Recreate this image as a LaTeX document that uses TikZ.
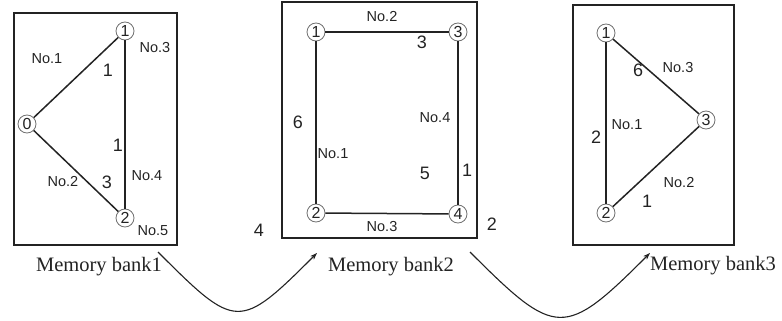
\documentclass[tikz,border=0pt]{standalone}
\usepackage{fontspec}
\setmainfont{Liberation Serif}
\newfontfamily\arialf{Liberation Sans}
\usetikzlibrary{arrows.meta}
\definecolor{ink}{HTML}{232323}
\tikzset{
  bankbox/.style={draw=ink,line width=2.4pt},
  vtx/.style={circle,draw=ink!65,line width=0.8pt,inner sep=0pt,minimum size=18pt,font=\arialf\fontsize{16}{16}\selectfont,text=ink},
  edge/.style={draw=ink,line width=1.5pt},
  nolab/.style={inner sep=0pt,font=\arialf\fontsize{14.5}{14.5}\selectfont,text=ink},
  wlab/.style={inner sep=0pt,font=\arialf\fontsize{18}{18}\selectfont,text=ink},
  caption/.style={inner sep=0pt,font=\fontsize{20.5}{20.5}\selectfont,text=ink},
  flow/.style={draw=ink,line width=1.1pt,-{Stealth[length=7pt,width=5pt]}}
}
\begin{document}
\begin{tikzpicture}[x=1pt,y=-1pt]
\useasboundingbox (0,0) rectangle (782,321);
% boxes
\draw[bankbox] (14,13) rectangle (177,245);
\draw[bankbox] (282,2) rectangle (477,238);
\draw[bankbox] (573,5) rectangle (734,245);
% bank 1
\node[vtx] (a0) at (27,124) {0};
\node[vtx] (a1) at (125,31) {1};
\node[vtx] (a2) at (125,218) {2};
\draw[edge] (a0) -- (a1);
\draw[edge] (a0) -- (a2);
\draw[edge] (a1) -- (a2);
\node[nolab] (a-no1) at (47,59) {No.1};
\node[wlab] (a-w1) at (108,70) {1};
\node[nolab] (a-no3) at (155,48) {No.3};
\node[wlab] (a-w2) at (118,145) {1};
\node[nolab] (a-no4) at (147,176) {No.4};
\node[wlab] (a-w3) at (107,182) {3};
\node[nolab] (a-no2) at (63,182) {No.2};
\node[nolab] (a-no5) at (153,231) {No.5};
% bank 2
\node[vtx] (b1) at (316,32) {1};
\node[vtx] (b3) at (458,32) {3};
\node[vtx] (b2) at (316,213) {2};
\node[vtx] (b4) at (458,214) {4};
\draw[edge] (b1) -- (b3);
\draw[edge] (b1) -- (b2);
\draw[edge] (b2) -- (b4);
\draw[edge] (b3) -- (b4);
\node[nolab] (b-no2) at (382,17) {No.2};
\node[wlab] (b-w3) at (422,42) {3};
\node[wlab] (b-w6) at (298,122) {6};
\node[nolab] (b-no1) at (333,154) {No.1};
\node[nolab] (b-no4) at (435,118) {No.4};
\node[wlab] (b-w5) at (425,173) {5};
\node[wlab] (b-w1) at (467,170) {1};
\node[nolab] (b-no3) at (382,227) {No.3};
\node[wlab] (b-w4) at (259,230) {4};
\node[wlab] (b-w2) at (492,224) {2};
% bank 3
\node[vtx] (c1) at (606,33) {1};
\node[vtx] (c3) at (706,120) {3};
\node[vtx] (c2) at (606,213) {2};
\draw[edge] (c1) -- (c2);
\draw[edge] (c1) -- (c3);
\draw[edge] (c2) -- (c3);
\node[wlab] (c-w6) at (638,70) {6};
\node[nolab] (c-no3) at (678,68) {No.3};
\node[nolab] (c-no1) at (627,125) {No.1};
\node[wlab] (c-w2) at (596,137) {2};
\node[nolab] (c-no2) at (679,183) {No.2};
\node[wlab] (c-w1) at (647,201) {1};
% captions
\node[caption] (cap1) at (99,267) {Memory bank1};
\node[caption] (cap2) at (391,267) {Memory bank2};
\node[caption] (cap3) at (713,266) {Memory bank3};
% flow arrows
\coordinate (f1s) at (158,252);
\coordinate (f1e) at (317,253);
\coordinate (f2s) at (470,252);
\coordinate (f2e) at (650,253);
\draw[flow] (f1s) .. controls (236,330) and (239,331) .. (f1e);
\draw[flow] (f2s) .. controls (556,338) and (564,339) .. (f2e);
\end{tikzpicture}
\end{document}
